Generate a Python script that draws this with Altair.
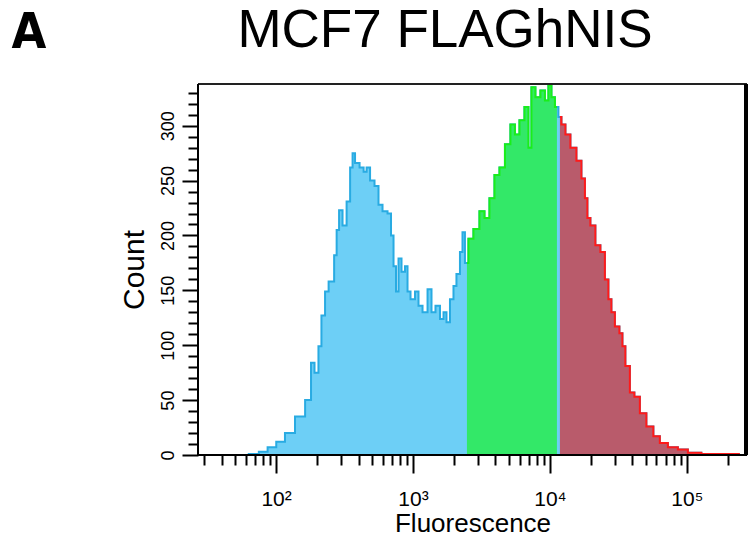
import altair as alt
import pandas as pd

# Histogram (fluorescence bin position, event count)
fluorescence = [57, 70, 80, 94, 107, 126, 150, 177, 183, 199, 209, 220, 236, 248, 261, 270,
                284, 293, 319, 336, 359, 365, 390, 425, 447, 470, 502, 546, 574, 625, 679,
                703, 739, 764, 804, 845, 904, 920, 1000, 1070, 1125, 1225, 1331, 1400, 1521,
                1629, 1714, 1800, 1926, 2026, 2128, 2280, 2317, 2477, 2606, 2931, 3190, 3467,
                3775, 4104, 4467, 4932, 5370, 5741, 6252, 6792, 7145, 7516, 8166, 8892, 9506,
                10000, 10520, 11250, 11830, 12450, 13530, 14720, 16560, 17420, 18630, 18930,
                20600, 22390, 24380, 26060, 27420, 28840, 30830, 33570, 34120, 37070, 39700,
                43150, 47750, 53700, 60400, 66800, 79100, 93500, 110700, 147200, 243800]
counts = [0, 1, 3, 7, 12, 20, 35, 50, 84, 75, 99, 127, 149, 158, 158, 182,
          205, 223, 209, 231, 262, 275, 266, 262, 258, 262, 250, 245, 228, 222, 220,
          200, 172, 149, 179, 167, 172, 149, 142, 149, 136, 130, 151, 130, 136,
          124, 130, 121, 142, 154, 165, 185, 203, 175, 197, 206, 222, 216,
          234, 255, 262, 283, 301, 292, 305, 317, 280, 335, 326, 332, 323,
          337, 326, 317, 308, 301, 292, 280, 268, 252, 234, 216,
          209, 191, 185, 160, 142, 130, 117, 111, 99, 81, 57,
          53, 38, 26, 17, 11, 7, 5, 2, 1, 1]

green_gate = [2400, 11500]   # green gated region
red_gate_start = 11500       # red gated region starts here

x_minor_ticks = [30, 40, 50, 60, 70, 80, 90,
                 200, 300, 400, 500, 600, 700, 800, 900,
                 2000, 3000, 4000, 5000, 6000, 7000, 8000, 9000,
                 20000, 30000, 40000, 50000, 60000, 70000, 80000, 90000,
                 200000]
x_major_ticks = [100, 1000, 10000, 100000]
x_major_labels = ["10²", "10³", "10⁴", "10⁵"]
y_minor_ticks = [v for v in range(0, 340, 10) if v % 50 != 0]
y_major_ticks = [0, 50, 100, 150, 200, 250, 300]

title_text = "MCF7 FLAGhNIS"
panel_letter = "A"

df = pd.DataFrame({"v": fluorescence, "c": counts})

W, H = 549, 371

x_scale = alt.Scale(type="log", domain=[26.9, 275000], nice=False)
y_scale = alt.Scale(domain=[0, 338], nice=False, zero=True)

label_expr = " : ".join(
    f"datum.value == {k} ? '{v}'" for k, v in zip(x_major_ticks, x_major_labels)
) + " : ''"

common_axis = dict(tickWidth=2, tickColor="black", domain=False, grid=False)

x_minor = alt.X("v:Q", scale=x_scale, axis=alt.Axis(
    orient="bottom", values=x_minor_ticks, tickSize=10, labels=False, title=None, **common_axis))
y_minor = alt.Y("c:Q", scale=y_scale, axis=alt.Axis(
    orient="left", values=y_minor_ticks, tickSize=10, labels=False, title=None, **common_axis))

x_major = alt.X("v:Q", scale=x_scale, axis=alt.Axis(
    orient="bottom", values=x_major_ticks, tickSize=18, labelExpr=label_expr,
    labelFont="Liberation Sans", labelFontSize=21, labelColor="black",
    labelPadding=15, labelOverlap=False, labelFlush=False, labelBound=False,
    labelAlign="center", labelBaseline="top",
    title="Fluorescence", titleFont="Liberation Sans", titleFontSize=26,
    titleFontWeight="normal", titleColor="black", titlePadding=1, **common_axis))
y_major = alt.Y("c:Q", scale=y_scale, axis=alt.Axis(
    orient="left", values=y_major_ticks, tickSize=16,
    labelAngle=270, labelAlign="center", labelBaseline="bottom",
    labelFont="Liberation Sans Narrow, Liberation Sans", labelFontSize=18,
    labelColor="black", labelPadding=5, labelOverlap=False, labelFlush=False,
    title="Count", titleFont="Liberation Sans", titleFontSize=30,
    titleFontWeight="normal", titleColor="black", titlePadding=10, **common_axis))

base = alt.Chart(df)
blue = base.mark_area(
    interpolate="step", color="#6dcff6", opacity=1,
    line={"color": "#29abe2", "strokeWidth": 2},
).encode(x=x_minor, y=y_minor)
green = base.transform_filter(
    (alt.datum.v >= green_gate[0]) & (alt.datum.v <= green_gate[1])
).mark_area(
    interpolate="step", color="#33e868", opacity=1,
    line={"color": "#1aee1a", "strokeWidth": 2},
).encode(x=x_major, y=y_major)
red = base.transform_filter(alt.datum.v >= red_gate_start).mark_area(
    interpolate="step", color="#b95b6b", opacity=1,
    line={"color": "#ff1a1a", "strokeWidth": 2},
).encode(x=alt.X("v:Q", scale=x_scale, axis=None), y=alt.Y("c:Q", scale=y_scale, axis=None))

one = alt.Data(values=[{}])
frame_top = alt.Chart(one).mark_rule(color="#222222", strokeWidth=2).encode(
    x=alt.value(0), x2=alt.value(W), y=alt.value(0))
frame_left = alt.Chart(one).mark_rule(color="black", strokeWidth=2).encode(
    x=alt.value(0), y=alt.value(0), y2=alt.value(H))
frame_bottom = alt.Chart(one).mark_rule(color="black", strokeWidth=2).encode(
    x=alt.value(0), x2=alt.value(W), y=alt.value(H))
frame_right = alt.Chart(one).mark_rule(color="black", strokeWidth=4).encode(
    x=alt.value(W - 1), y=alt.value(0), y2=alt.value(H))
title_mark = alt.Chart(one).mark_text(
    text=title_text, font="Liberation Sans", fontSize=53, color="black",
    align="center", baseline="alphabetic",
).encode(x=alt.value(247), y=alt.value(-37))
letter_mark = alt.Chart(one).mark_text(
    text=panel_letter, font="Liberation Sans Narrow, DejaVu Sans Condensed, Liberation Sans",
    fontSize=50, fontWeight="bold", color="black", align="center", baseline="alphabetic",
).encode(x=alt.value(-169), y=alt.value(-36))

chart = alt.layer(
    blue, green, red, frame_top, frame_left, frame_bottom, frame_right, title_mark, letter_mark
).resolve_axis(x="independent", y="independent").properties(
    width=W, height=H,
    autosize=alt.AutoSizeParams(type="none"),
    padding={"left": 198, "top": 84, "right": 4, "bottom": 89},
).configure_view(stroke="transparent").configure(background="white")

chart.save("out.html", embed_options={"renderer": "svg", "actions": False})
